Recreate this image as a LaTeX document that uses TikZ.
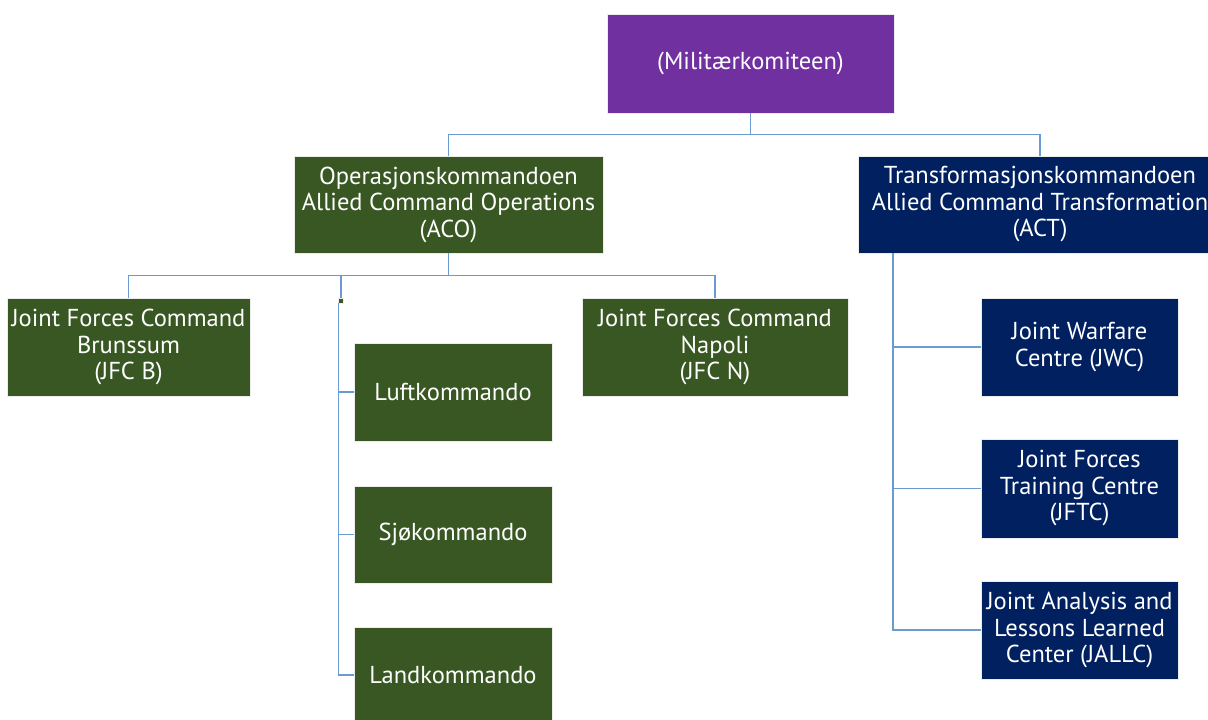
\documentclass[tikz,border=0pt]{standalone}
\usepackage{fontspec}
\setmainfont{PT Sans}
\definecolor{mkpurple}{HTML}{7030A0}
\definecolor{acogreen}{HTML}{385723}
\definecolor{actnavy}{HTML}{002060}
\definecolor{linkblue}{HTML}{6A9BD2}
\tikzset{
  box/.style={draw=white!85!gray, line width=0.6pt, text=white, align=center,
    font=\fontsize{24.5}{26.5}\selectfont, inner sep=0pt},
  greenbox/.style={box, fill=acogreen},
  navybox/.style={box, fill=actnavy},
  purplebox/.style={box, fill=mkpurple},
  link/.style={draw=linkblue, line width=1.6pt}
}
\begin{document}
\begin{tikzpicture}[x=1pt,y=-1pt]
\useasboundingbox (0,0) rectangle (1208,720);
\node[purplebox, minimum width=287pt, minimum height=99pt] (mk) at (750.5,63.5) {(Militærkomiteen)};
\node[greenbox, minimum width=309pt, minimum height=97pt] (aco) at (448.5,204.5) {Operasjonskommandoen\\Allied Command Operations\\(ACO)};
\node[navybox, minimum width=364pt, minimum height=97pt] (act) at (1040,204.5) {Transformasjonskommandoen\\Allied Command Transformation\\(ACT)};
\node[greenbox, minimum width=243pt, minimum height=98pt] (jfcb) at (128.5,347) {Joint Forces Command\\Brunssum\\(JFC B)};
\node[greenbox, minimum width=266pt, minimum height=98pt] (jfcn) at (715,347) {Joint Forces Command\\Napoli\\(JFC N)};
\node[fill=acogreen, draw=white!85!gray, line width=0.3pt, minimum size=5pt, inner sep=0pt] (sq) at (341,300.5) {};
\node[greenbox, minimum width=198pt, minimum height=98pt] (luft) at (453,392) {Luftkommando};
\node[greenbox, minimum width=198pt, minimum height=97pt] (sjo) at (453,534.5) {Sjøkommando};
\node[greenbox, minimum width=198pt, minimum height=96pt] (land) at (453,675) {Landkommando};
\node[navybox, minimum width=197pt, minimum height=98pt] (jwc) at (1079.5,347) {Joint Warfare\\Centre (JWC)};
\node[navybox, minimum width=197pt, minimum height=99pt] (jftc) at (1079.5,488.5) {Joint Forces\\Training Centre\\(JFTC)};
\node[navybox, minimum width=197pt, minimum height=98pt] (jallc) at (1079.5,630) {Joint Analysis and\\Lessons Learned\\Center (JALLC)};
% top level
\draw[link] (mk.south) -- ++(0,21) -| (aco.north);
\draw[link] (mk.south) -- ++(0,21) -| (act.north);
% ACO level
\draw[link] (aco.south) -- ++(0,22) -| (jfcb.north);
\draw[link] (aco.south) -- ++(0,22) -| (jfcn.north);
\draw[link] (aco.south) -- ++(0,22) -| (sq.north);
\draw[link] ([xshift=-2.5pt]sq.south) |- (luft.west);
\draw[link] ([xshift=-2.5pt]sq.south) |- (sjo.west);
\draw[link] ([xshift=-2.5pt]sq.south) |- (land.west);
% ACT level
\coordinate (actl) at ([xshift=35pt]act.south west);
\draw[link] (actl) |- (jwc.west);
\draw[link] (actl) |- (jftc.west);
\draw[link] (actl) |- (jallc.west);
\end{tikzpicture}
\end{document}
